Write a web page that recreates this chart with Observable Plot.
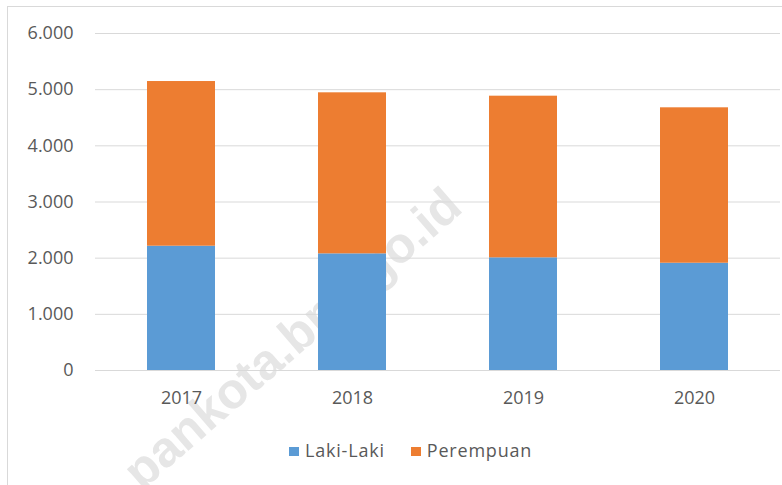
<!DOCTYPE html>
<html>
<head>
<meta charset="utf-8">
<script src="https://cdn.jsdelivr.net/npm/d3@7"></script>
<script src="https://cdn.jsdelivr.net/npm/@observablehq/plot@0.6"></script>
<style>
  html, body { margin: 0; padding: 0; background: #fff; }
  #wrap { position: relative; width: 782px; height: 485px; overflow: hidden; font-family: "Open Sans", sans-serif; }
  #frame { position: absolute; left: 7px; top: 6px; width: 800px; height: 500px; border: 1px solid #d9d9d9; box-sizing: border-box; }
  #wm { position: absolute; left: 292px; top: 338px; transform: translate(-50%, -50%) rotate(-41deg); font-family: "Liberation Sans", Arial, sans-serif; font-weight: bold; font-size: 50px; color: #e6e6e6; white-space: nowrap; }
  #chart { position: relative; }
  #legend { position: relative; display: flex; align-items: center; margin-top: 20px; padding-left: 289px; height: 20px; font-size: 18px; color: #595959; letter-spacing: 0.8px; }
  .item { display: flex; align-items: center; }
  .sw { width: 10px; height: 9px; margin-right: 6px; margin-top: 3px; }
</style>
</head>
<body>
<div id="wrap">
  <div id="frame"></div>
  <div id="wm">pankota.bps.go.id</div>
  <div id="chart"></div>
  <div id="legend"></div>
</div>
<script>
const years = ["2017", "2018", "2019", "2020"];
const seriesNames = ["Laki-Laki", "Perempuan"];
const lakiLaki = [2213, 2077, 2006, 1910];
const perempuan = [2932, 2867, 2878, 2767];
const colors = ["#5B9BD5", "#ED7D31"];
const yTicks = [0, 1000, 2000, 3000, 4000, 5000, 6000];

const rows = [];
years.forEach((yr, i) => {
  rows.push({year: yr, series: seriesNames[0], value: lakiLaki[i]});
  rows.push({year: yr, series: seriesNames[1], value: perempuan[i]});
});

const fmt = d => d3.format(",")(d).replace(/,/g, ".");

const chart = Plot.plot({
  width: 782,
  height: 420,
  marginTop: 33,
  marginBottom: 50,
  marginLeft: 95,
  marginRight: 2,
  style: {fontFamily: "'Open Sans', sans-serif", fontSize: "18px", color: "#595959", background: "transparent"},
  x: {domain: years, paddingInner: 0.605, paddingOuter: 0.3025, label: null},
  y: {domain: [0, 6000], label: null},
  color: {domain: seriesNames, range: colors},
  marks: [
    Plot.gridY(yTicks, {stroke: "#d9d9d9", strokeOpacity: 1, strokeWidth: 1}),
    Plot.barY(rows, {x: "year", y: "value", fill: "series"}),
    Plot.axisY(yTicks, {tickSize: 0, tickPadding: 22, tickFormat: fmt, fontSize: 18, fill: "#595959", label: null}),
    Plot.axisX({tickSize: 0, tickPadding: 21, fontSize: 18, fill: "#595959", label: null})
  ]
});
document.getElementById("chart").appendChild(chart);

const legend = document.getElementById("legend");
seriesNames.forEach((name, i) => {
  const item = document.createElement("div");
  item.className = "item";
  if (i > 0) item.style.marginLeft = "26px";
  const sw = document.createElement("div");
  sw.className = "sw";
  sw.style.background = colors[i];
  const t = document.createElement("span");
  t.textContent = name;
  item.appendChild(sw);
  item.appendChild(t);
  legend.appendChild(item);
});
</script>
</body>
</html>
